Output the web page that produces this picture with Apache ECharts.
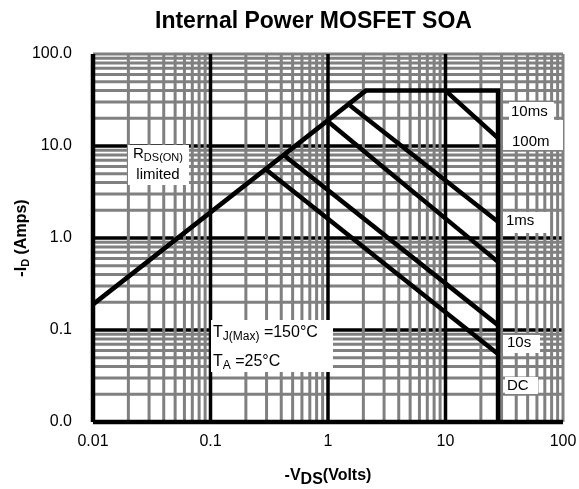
<!DOCTYPE html>
<html>
<head>
<meta charset="utf-8">
<script src="https://cdn.jsdelivr.net/npm/echarts@6/dist/echarts.min.js"></script>
<style>html,body{margin:0;padding:0;background:#fff;}#c{width:579px;height:489px;}</style>
</head>
<body>
<div id="c"></div>
<script>
// ---- tick structure ----
const decades = [0.01, 0.1, 1, 10, 100];
const minorMultipliers = [2, 3, 4, 5, 6, 7, 8, 9];
const xTickLabels = ['0.01', '0.1', '1', '10', '100'];
const yTickLabels = ['0.0', '0.1', '1.0', '10.0', '100.0'];

// ---- SOA curves (V in volts, I in amps) ----
const boundaryV = [0.01, 2.1, 28, 28];
const boundaryI = [0.19, 40, 40, 0.01];
const ms10V = [10, 28];
const ms10I = [40, 12.2];
const ms100V = [1.54, 28];
const ms100I = [27.5, 1.5];
const ms1V = [1.0, 28];
const ms1I = [18.5, 0.55];
const s10V = [0.43, 28];
const s10I = [7.8, 0.113];
const dcV = [0.30, 28];
const dcI = [5.5, 0.055];

const FONT = 'Liberation Sans, Arial, Helvetica, sans-serif';
const GRAY = '#808080';
const xMin = decades[0], xMax = decades[decades.length - 1];
const yMin = decades[0], yMax = decades[decades.length - 1];

const minorValues = [];
for (let d = 0; d < decades.length - 1; d++) {
  minorMultipliers.forEach(m => minorValues.push(+(decades[d] * m).toPrecision(3)));
}

function gridSeries(points, color, width, z) {
  return {
    type: 'line', data: points, symbol: 'none', silent: true, clip: false,
    lineStyle: { color: color, width: width, cap: 'butt' }, z: z, animation: false
  };
}
const series = [];
// horizontal minor (gray) + top border gray
minorValues.concat([yMax]).forEach(v => series.push(gridSeries([[xMin, v], [xMax, v]], GRAY, 3, 1)));
// horizontal major (black)
decades.slice(1, -1).forEach(v => series.push(gridSeries([[xMin, v], [xMax, v]], '#000', 3.5, 2)));
// vertical minor (gray) + right border gray
minorValues.concat([xMax]).forEach(v => series.push(gridSeries([[v, yMin], [v, yMax]], GRAY, 3, 3)));
// vertical major (black) + left axis
decades.slice(0, -1).forEach(v => series.push(gridSeries([[v, yMin], [v, yMax]], '#000', v === xMin ? 4.5 : 3.5, 4)));
// bottom axis
series.push(gridSeries([[xMin, yMin], [xMax, yMin]], '#000', 4.5, 4));

function curve(vs, is) {
  return {
    type: 'line', data: vs.map((v, i) => [v, is[i]]), symbol: 'none', silent: true,
    lineStyle: { color: '#000', width: 4.5, join: 'miter', cap: 'butt' }, z: 5, animation: false
  };
}
[[boundaryV, boundaryI], [ms10V, ms10I], [ms100V, ms100I], [ms1V, ms1I], [s10V, s10I], [dcV, dcI]]
  .forEach(p => series.push(curve(p[0], p[1])));

function box(x, y, w, h) {
  return { type: 'rect', shape: { x: x, y: y, width: w, height: h }, style: { fill: '#fff' }, z: 100, silent: true };
}
function txt(x, y, text, align, size) {
  const fs = size || 15;
  return {
    type: 'text', x: x, y: y, z: 101, silent: true,
    style: {
      text: text, align: align || 'left', textAlign: align || 'left', verticalAlign: 'middle', textVerticalAlign: 'middle',
      fontFamily: FONT, fontSize: fs, fill: '#000', lineHeight: 21,
      rich: {
        n: { fontFamily: FONT, fontSize: fs, fill: '#000', color: '#000' },
        s: { fontFamily: FONT, fontSize: Math.round(fs * 0.73), fill: '#000', color: '#000', padding: [8, 0, 0, 0] }
      }
    }
  };
}

const option = {
  animation: false,
  title: {
    text: 'Internal Power MOSFET SOA', left: 155, top: 10, padding: 0,
    textStyle: { fontFamily: FONT, fontSize: 23, fontWeight: 'bold', color: '#000' }
  },
  grid: { left: 93, right: 16, top: 54, bottom: 67, containLabel: false, outerBoundsMode: 'none' },
  xAxis: {
    type: 'log', logBase: 10, min: xMin, max: xMax,
    axisLine: { show: false }, axisTick: { show: false }, splitLine: { show: false },
    axisLabel: {
      margin: 12, fontFamily: FONT, fontSize: 16, color: '#000',
      formatter: v => xTickLabels[decades.findIndex(d => Math.abs(d - v) / d < 1e-6)]
    },
    name: '-V{d|DS}(Volts)', nameLocation: 'middle', nameGap: 41, nameMoveOverlap: false,
    nameTextStyle: {
      fontFamily: FONT, fontSize: 16, fontWeight: 'bold', color: '#000',
      rich: { d: { fontFamily: FONT, fontSize: 16, fontWeight: 'bold', color: '#000', padding: [9, 0, 0, 0] } }
    }
  },
  yAxis: {
    type: 'log', logBase: 10, min: yMin, max: yMax,
    axisLine: { show: false }, axisTick: { show: false }, splitLine: { show: false },
    axisLabel: {
      margin: 21, fontFamily: FONT, fontSize: 16, color: '#000',
      formatter: v => yTickLabels[decades.findIndex(d => Math.abs(d - v) / d < 1e-6)]
    },
    name: '-I{d|D} (Amps)', nameLocation: 'middle', nameGap: 62, nameRotate: 90, nameMoveOverlap: false,
    nameTextStyle: {
      fontFamily: FONT, fontSize: 16, fontWeight: 'bold', color: '#000',
      rich: { d: { fontFamily: FONT, fontSize: 11, fontWeight: 'bold', color: '#000', padding: [8, 0, 0, 0] } }
    }
  },
  series: series,
  graphic: [
    box(128, 145, 61, 40),
    txt(158, 154, '{n|R}{s|DS(ON)}', 'center'),
    txt(158, 175, 'limited', 'center'),
    box(211, 320, 122, 52),
    txt(213, 333, '{n|T}{s|J(Max)}{n| =150°C}', 'left', 16),
    txt(213, 362, '{n|T}{s|A}{n| =25°C}', 'left', 16),
    box(509, 102, 45, 18),
    txt(511, 112, '10ms'),
    box(503, 120, 60, 30),
    txt(512, 142, '100m'),
    box(503, 212, 45, 21),
    txt(506, 221, '1ms'),
    box(503, 335, 37, 18),
    txt(507, 343, '10s'),
    box(505, 377, 33, 17),
    txt(507, 386, 'DC')
  ]
};
const chart = echarts.init(document.getElementById('c'), null, { renderer: 'canvas' });
chart.setOption(option);
</script>
</body>
</html>
